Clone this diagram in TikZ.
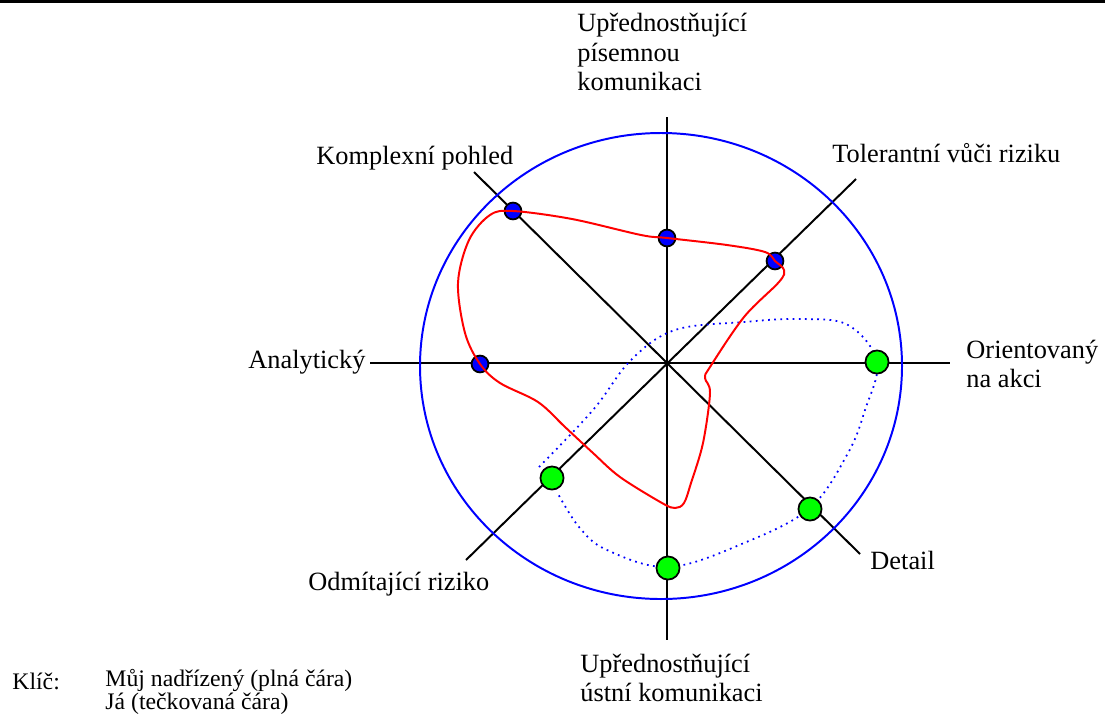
\documentclass[tikz,border=0pt]{standalone}
\usepackage{fontspec}
\setmainfont{Liberation Serif}
\begin{document}
\begin{tikzpicture}[x=0.016cm, y=-0.016cm,
    osa/.style={line width=0.9pt},
    nadrizeny/.style={draw, circle, line width=0.8pt, fill=blue, minimum size=0.27cm, inner sep=0pt},
    ja/.style={draw, circle, line width=0.8pt, fill=green, minimum size=0.37cm, inner sep=0pt},
    popis/.style={anchor=west, inner sep=0pt, align=left, font=\fontsize{12}{13.6}\selectfont},
    klic/.style={anchor=west, inner sep=0pt, align=left, font=\fontsize{10.8}{9.8}\selectfont}]
    \useasboundingbox (0,0) rectangle (1105,716);

    % top rule
    \coordinate (vlevo) at (0,1.3);
    \coordinate (vpravo) at (1105,1.3);
    \draw[line width=1.2pt] (vlevo) -- (vpravo);

    % axes
    \coordinate (nahore) at (667,117);
    \coordinate (dole) at (667,640);
    \coordinate (levo) at (370,363);
    \coordinate (pravo) at (950,363);
    \coordinate (levoNahore) at (474,172);
    \coordinate (pravoDole) at (860,554);
    \coordinate (levoDole) at (466,560);
    \coordinate (pravoNahore) at (856,179);
    \draw[osa] (nahore) -- (dole);
    \draw[osa] (levo) -- (pravo);
    \draw[osa] (levoNahore) -- (pravoDole);
    \draw[osa] (levoDole) -- (pravoNahore);

    % circle
    \draw[blue, line width=0.9pt] (661,366) ellipse [x radius=241, y radius=233];

    % labels
    \node[popis] (pisemna) at (577,52) {Upřednostňující\\písemnou\\komunikaci};
    \node[popis] (komplexni) at (316,158) {Komplexní pohled};
    \node[popis] (tolerantni) at (832,153) {Tolerantní vůči riziku};
    \node[popis] (analyticky) at (248,362) {Analytický};
    \node[popis] (akce) at (966,364) {Orientovaný\\na akci};
    \node[popis] (odmitajici) at (308,584) {Odmítající riziko};
    \node[popis] (detail) at (870,560) {Detail};
    \node[popis] (ustni) at (580,678) {Upřednostňující\\ústní komunikaci};

    % key
    \node[klic] (klic) at (12,681) {Klíč:};
    \node[klic] (vysvetlivky) at (105,692) {Můj nadřízený (plná čára)\\Já (tečkovaná čára)};

    % me (dotted)
    \draw[blue, dotted, line width=0.8pt] plot[smooth, tension=0.6] coordinates {
        (539,467) (593,410) (631,360) (675,330) (744,322) (799,319) (848,325)
        (877,362) (865,410) (848,453) (810,508) (744,543) (669,567) (607,550)
        (579,527) (557,492)};
    \node[ja] (j1) at (877,362) {};
    \node[ja] (j2) at (810,509) {};
    \node[ja] (j3) at (668,568) {};
    \node[ja] (j4) at (552,478) {};

    % my superior (solid)
    \node[nadrizeny] (n1) at (513,211) {};
    \node[nadrizeny] (n2) at (667,238) {};
    \node[nadrizeny] (n3) at (775,261) {};
    \node[nadrizeny] (n4) at (480,364) {};
    \draw[red, line width=0.9pt] plot[smooth cycle, tension=0.55] coordinates {
        (n1) (572,219) (641,235) (n2) (727,245) (765,252) (n3) (784,270)
        (779,282) (744,317) (710,367) (705,378) (710,393) (703,443) (691,483)
        (684,503) (675,508) (662,503) (620,477) (593,453) (565,427) (538,402)
        (500,383) (n4) (465,333) (458,283) (469,240) (490,215)};
\end{tikzpicture}
\end{document}
